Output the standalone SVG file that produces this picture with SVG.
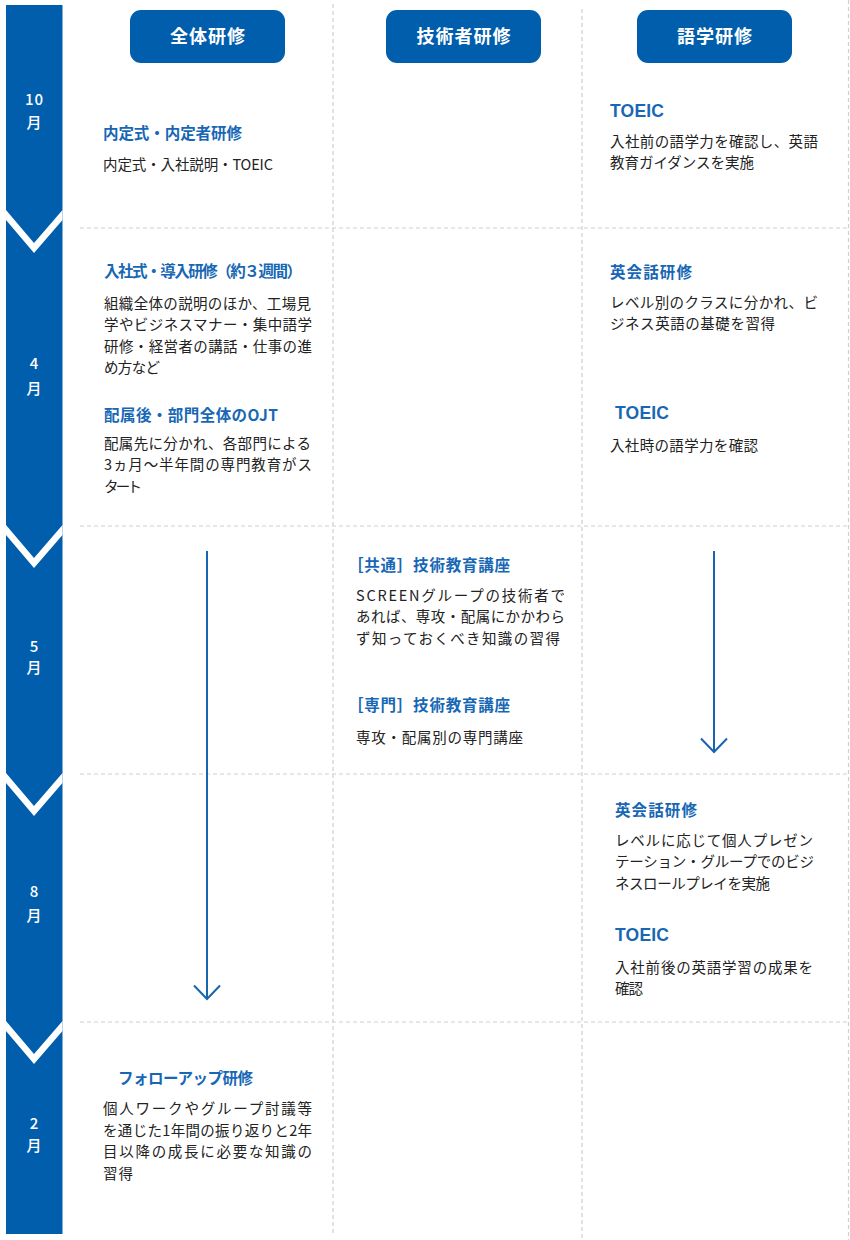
<svg xmlns="http://www.w3.org/2000/svg" width="850" height="1240" viewBox="0 0 850 1240">
<style>
text{font-family:"Noto Sans CJK JP","Noto Sans",sans-serif}
.mon{fill:#fff;font-size:15px;font-weight:500;text-anchor:middle}
.hd{fill:#fff;font-size:18px;font-weight:700;text-anchor:middle;letter-spacing:1px}
.h{fill:#1767b5;font-size:15.5px;font-weight:700}
.t{font-family:"Liberation Sans",Arial,sans-serif;font-size:17.5px}
.b{fill:#222;font-size:14.5px}
.dash{stroke:#cfcfcf;stroke-width:1.2;stroke-dasharray:4 3;fill:none}
.arr{stroke:#1a65b0;stroke-width:2;fill:none}
</style>
<rect width="850" height="1240" fill="#fff"/>
<g id="grid">
<line class="dash" x1="333" y1="4" x2="333" y2="1233"/>
<line class="dash" x1="582" y1="9" x2="582" y2="1240"/>
<line class="dash" x1="848.5" y1="0" x2="848.5" y2="1240"/>
<line class="dash" x1="80" y1="228" x2="848" y2="228"/>
<line class="dash" x1="80" y1="526" x2="848" y2="526"/>
<line class="dash" x1="80" y1="774" x2="848" y2="774"/>
<line class="dash" x1="80" y1="1022" x2="848" y2="1022"/>
</g>
<g id="timeline">
<rect x="6" y="5" width="56.5" height="1229" fill="#005ead"/>
<polygon fill="#fff" points="6,210 34,243 62.5,210 62.5,220 34,253 6,220"/>
<polygon fill="#fff" points="6,525 34,558 62.5,525 62.5,535 34,568 6,535"/>
<polygon fill="#fff" points="6,773 34,806 62.5,773 62.5,783 34,816 6,783"/>
<polygon fill="#fff" points="6,1021 34,1054 62.5,1021 62.5,1031 34,1064 6,1031"/>
<text class="mon" x="34.5" y="105" letter-spacing="1">10</text><text class="mon" x="34" y="128">月</text>
<text class="mon" x="34" y="369">4</text><text class="mon" x="34" y="393.5">月</text>
<text class="mon" x="34" y="652">5</text><text class="mon" x="34" y="673">月</text>
<text class="mon" x="34" y="897">8</text><text class="mon" x="34" y="920.5">月</text>
<text class="mon" x="34" y="1129">2</text><text class="mon" x="34" y="1151">月</text>
</g>
<g id="header-all"><rect x="130" y="10" width="155" height="53" rx="11" fill="#005ead"/><text class="hd" x="208" y="42.5">全体研修</text></g>
<g id="header-tech"><rect x="386" y="10" width="155" height="53" rx="11" fill="#005ead"/><text class="hd" x="464" y="42.5">技術者研修</text></g>
<g id="header-lang"><rect x="637" y="10" width="155" height="53" rx="11" fill="#005ead"/><text class="hd" x="715" y="42.5">語学研修</text></g>

<g id="all-oct">
<text class="h" x="103" y="139" textLength="139">内定式・内定者研修</text>
<text class="b" x="103" y="169.5" textLength="170">内定式・入社説明・TOEIC</text>
</g>
<g id="all-apr1">
<text class="h" x="104" y="277" textLength="198">入社式・導入研修（約３週間）</text>
<text class="b" x="104" y="308.5" textLength="207">組織全体の説明のほか、工場見</text>
<text class="b" x="104" y="330" textLength="208">学やビジネスマナー・集中語学</text>
<text class="b" x="104" y="351.5" textLength="208">研修・経営者の講話・仕事の進</text>
<text class="b" x="104" y="373" textLength="56">め方など</text>
</g>
<g id="all-apr2">
<text class="h" x="104" y="421" textLength="174">配属後・部門全体のOJT</text>
<text class="b" x="104" y="448.5" textLength="207">配属先に分かれ、各部門による</text>
<text class="b" x="104" y="470" textLength="208">3ヵ月〜半年間の専門教育がス</text>
<text class="b" x="104" y="491.5" textLength="38">タート</text>
</g>
<g id="all-feb">
<text class="h" x="118" y="1084" textLength="135">フォローアップ研修</text>
<text class="b" x="103" y="1114" textLength="209">個人ワークやグループ討議等</text>
<text class="b" x="103" y="1135.7" textLength="209">を通じた1年間の振り返りと2年</text>
<text class="b" x="103" y="1157.4" textLength="209">目以降の成長に必要な知識の</text>
<text class="b" x="103" y="1179.1" textLength="30">習得</text>
</g>
<g id="tech-common">
<text class="h" x="348" y="571" textLength="162">［共通］技術教育講座</text>
<text class="b" x="356" y="600.5" textLength="209">SCREENグループの技術者で</text>
<text class="b" x="356" y="622" textLength="209">あれば、専攻・配属にかかわら</text>
<text class="b" x="356" y="643.5" textLength="204">ず知っておくべき知識の習得</text>
</g>
<g id="tech-special">
<text class="h" x="348" y="711" textLength="162">［専門］技術教育講座</text>
<text class="b" x="356" y="742.5" textLength="167">専攻・配属別の専門講座</text>
</g>
<g id="lang-oct">
<text class="h t" x="610" y="117" textLength="54">TOEIC</text>
<text class="b" x="610" y="146.5" textLength="208">入社前の語学力を確認し、英語</text>
<text class="b" x="610" y="168" textLength="144">教育ガイダンスを実施</text>
</g>
<g id="lang-apr1">
<text class="h" x="610" y="278" textLength="82">英会話研修</text>
<text class="b" x="610" y="307.5" textLength="208">レベル別のクラスに分かれ、ビ</text>
<text class="b" x="610" y="329" textLength="165">ジネス英語の基礎を習得</text>
</g>
<g id="lang-apr2">
<text class="h t" x="615" y="419" textLength="54">TOEIC</text>
<text class="b" x="610" y="450.5" textLength="148">入社時の語学力を確認</text>
</g>
<g id="lang-aug1">
<text class="h" x="615" y="816" textLength="82">英会話研修</text>
<text class="b" x="615" y="845.5" textLength="198">レベルに応じて個人プレゼン</text>
<text class="b" x="615" y="867" textLength="199">テーション・グループでのビジ</text>
<text class="b" x="615" y="888.5" textLength="155">ネスロールプレイを実施</text>
</g>
<g id="lang-aug2">
<text class="h t" x="615" y="941" textLength="54">TOEIC</text>
<text class="b" x="615" y="972.5" textLength="198">入社前後の英語学習の成果を</text>
<text class="b" x="615" y="994" textLength="28">確認</text>
</g>
<g id="connectors">
<line class="arr" x1="207" y1="551" x2="207" y2="999"/>
<polyline class="arr" points="194,985.5 207,999 220,985.5"/>
<line class="arr" x1="714" y1="551" x2="714" y2="752"/>
<polyline class="arr" points="701,738.5 714,752 727,738.5"/>
</g>
</svg>
